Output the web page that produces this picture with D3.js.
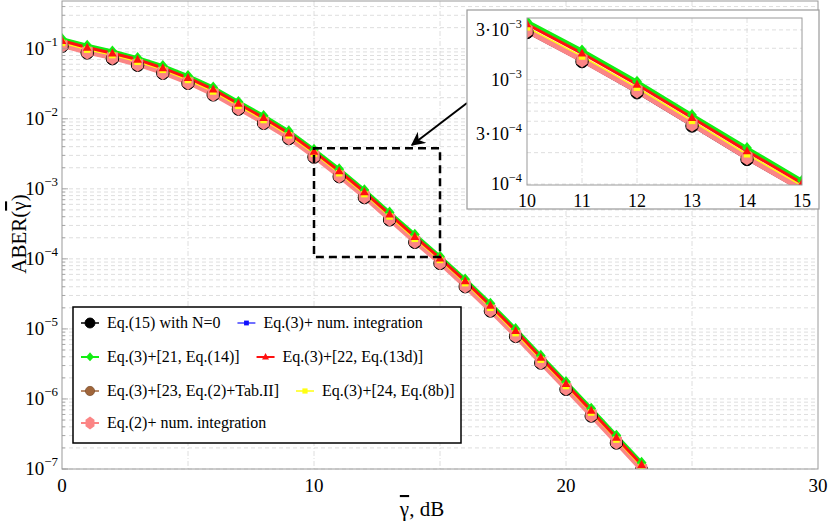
<!DOCTYPE html>
<html>
<head>
<meta charset="utf-8">
<script src="https://cdn.jsdelivr.net/npm/d3@7"></script>
<style>
  body { margin: 0; background: #fff; }
  .grid line { stroke: #d6d6d6; stroke-width: 0.8; stroke-dasharray: 4,3; }
</style>
</head>
<body>
<div id="chart"></div>
<script>
const svgWidth = 830;
const svgHeight = 523;
const serif = '"Liberation Serif"';

// SNR points, dB
const snr = [0,1,2,3,4,5,6,7,8,9,10,11,12,13,14,15,16,17,18,19,20,21,22,23];

// ABER values, one array per curve
const eq15 = [0.108,0.087,0.072,0.058,0.0445,0.032,0.0219,0.0137,0.0086,0.0052,0.00283,0.00149,0.00075,0.00036,0.000172,0.000086,4.0e-5,1.8e-5,7.8e-6,3.25e-6,1.37e-6,5.7e-7,2.35e-7,9.6e-8];
const eq3num = [0.108,0.087,0.072,0.058,0.0445,0.032,0.0219,0.0137,0.0086,0.0052,0.00283,0.00149,0.00075,0.00036,0.000172,0.000086,4.0e-5,1.8e-5,7.8e-6,3.25e-6,1.37e-6,5.7e-7,2.35e-7,9.6e-8];
const eq3ref21 = [0.138,0.111,0.092,0.074,0.057,0.041,0.028,0.0175,0.011,0.00665,0.00362,0.00191,0.00096,0.00046,0.000222,0.000108,5.1e-5,2.3e-5,1.0e-5,4.15e-6,1.75e-6,7.3e-7,3.0e-7,1.23e-7];
const eq3ref22 = [0.130,0.104,0.086,0.070,0.053,0.0384,0.0263,0.0164,0.0103,0.0062,0.0034,0.00179,0.0009,0.000432,0.000207,0.000102,4.8e-5,2.16e-5,9.4e-6,3.9e-6,1.64e-6,6.8e-7,2.8e-7,1.15e-7];
const eq3ref23 = [0.112,0.090,0.075,0.060,0.0463,0.0333,0.0228,0.0142,0.0089,0.0054,0.00294,0.00155,0.00078,0.000374,0.000179,0.0000895,4.16e-5,1.87e-5,8.1e-6,3.38e-6,1.42e-6,5.9e-7,2.44e-7,1.0e-7];
const eq3ref24 = [0.121,0.097,0.081,0.065,0.050,0.0358,0.0245,0.0153,0.0096,0.0058,0.00317,0.00167,0.00084,0.000403,0.000193,0.0000965,4.5e-5,2.0e-5,8.7e-6,3.64e-6,1.53e-6,6.4e-7,2.63e-7,1.07e-7];
const eq2num = [0.113,0.091,0.076,0.061,0.0467,0.0336,0.023,0.0144,0.009,0.00546,0.00297,0.00156,0.00079,0.000378,0.000181,0.00009,4.2e-5,1.89e-5,8.2e-6,3.41e-6,1.44e-6,6.0e-7,2.47e-7,1.01e-7];

const xTicks = [0, 10, 20, 30];
const yTickExp = [-1, -2, -3, -4, -5, -6, -7];
const insetXTicks = [10, 11, 12, 13, 14, 15];
const insetYTicks = [[3, -3], [1, -3], [3, -4], [1, -4]];

// legend rows: [label, series key], two per row
const legendRows = [
  ["Eq.(15) with N=0", "eq15", "Eq.(3)+ num. integration", "eq3num"],
  ["Eq.(3)+[21, Eq.(14)]", "eq3ref21", "Eq.(3)+[22, Eq.(13d)]", "eq3ref22"],
  ["Eq.(3)+[23, Eq.(2)+Tab.II]", "eq3ref23", "Eq.(3)+[24, Eq.(8b)]", "eq3ref24"],
  ["Eq.(2)+ num. integration", "eq2num", null, null]
];

const hexPath = "M0,-8L5.6,-4.2L5.6,4.2L0,8L-5.6,4.2L-5.6,-4.2Z";

// drawing style per curve, in draw order
const series = [
  {key: "eq15",     data: eq15,     color: "#000000", lw: 1.5, shape: "circle",   size: 6.2},
  {key: "eq3num",   data: eq3num,   color: "#1010ff", lw: 1.2, shape: "square",   size: 6},
  {key: "eq3ref23", data: eq3ref23, color: "#a0653a", lw: 1.5, shape: "circle",   size: 5.8},
  {key: "eq2num",   data: eq2num,   color: "#fb8585", lw: 6,   shape: "hex",      size: 7},
  {key: "eq3ref21", data: eq3ref21, color: "#12ee12", lw: 3.5, shape: "diamond",  size: 9},
  {key: "eq3ref24", data: eq3ref24, color: "#ffff10", lw: 1.5, shape: "square",   size: 6.5},
  {key: "eq3ref22", data: eq3ref22, color: "#ff1010", lw: 3,   shape: "triangle", size: 7}
];
const styleOf = {};
series.forEach(s => styleOf[s.key] = s);

const margin = {top: 1, right: 12, bottom: 54, left: 62};

const svg = d3.select("#chart").append("svg")
  .attr("width", svgWidth)
  .attr("height", svgHeight)
  .style("font-family", serif);

const x = d3.scaleLinear().domain([0, 30]).range([margin.left, svgWidth - margin.right]);
const y = d3.scaleLog().domain([1e-7, 0.48]).range([svgHeight - margin.bottom, margin.top]);

// draw a marker of a given style at the origin of group g
function marker(g, s, k) {
  k = k || 1;
  const r = s.size * k;
  let el;
  if (s.shape === "circle") {
    el = g.append("circle").attr("r", r);
  } else if (s.shape === "square") {
    el = g.append("rect").attr("x", -r / 2).attr("y", -r / 2).attr("width", r).attr("height", r);
  } else if (s.shape === "triangle") {
    el = g.append("path").attr("d", `M0,${-r * 0.7}L${r * 0.62},${r * 0.45}L${-r * 0.62},${r * 0.45}Z`);
  } else if (s.shape === "diamond") {
    el = g.append("path").attr("d", `M0,${-r * 0.65}L${r * 0.55},0L0,${r * 0.6}L${-r * 0.55},0Z`);
  } else {
    el = g.append("path").attr("d", hexPath).attr("transform", `scale(${k})`);
  }
  el.attr("fill", s.color);
  if (s.key === "eq15") el.attr("stroke", "#000");
  if (s.key === "eq3ref23") el.attr("stroke", "#6e4425").attr("stroke-width", 0.6);
  return el;
}

// "a·10^e" text with superscript exponent
function powerLabel(sel, mant, exp, size) {
  const t = sel.append("text").attr("font-size", size).style("font-family", serif);
  t.append("tspan").text((mant === 1 ? "" : mant + "\u00b7") + "10");
  t.append("tspan").attr("dy", -size * 0.45).attr("font-size", size * 0.68).text("\u2212" + Math.abs(exp));
  return t;
}

// grid, curves and frame of one plot area
function drawPlot(root, xs, ys, id, xGrid, yMinor) {
  const [x0, x1] = xs.range();
  const [y0, y1] = ys.range();
  root.append("clipPath").attr("id", id)
    .append("rect").attr("x", x0).attr("y", y1).attr("width", x1 - x0).attr("height", y0 - y1);

  const grid = root.append("g").attr("class", "grid");
  grid.selectAll(".h").data(yMinor).join("line")
    .attr("x1", x0).attr("x2", x1)
    .attr("y1", d => ys(d)).attr("y2", d => ys(d));
  grid.selectAll(".v").data(xGrid).join("line")
    .attr("x1", d => xs(d)).attr("x2", d => xs(d))
    .attr("y1", y1).attr("y2", y0)
    .style("stroke-dasharray", "5,2,1,2");

  const plot = root.append("g").attr("clip-path", `url(#${id})`);
  const line = d3.line().x((d, i) => xs(snr[i])).y(d => ys(d));
  series.forEach(s => {
    plot.append("path").datum(s.data)
      .attr("d", line)
      .attr("fill", "none")
      .attr("stroke", s.color)
      .attr("stroke-width", s.lw)
      .attr("stroke-linejoin", "round");
  });
  series.forEach(s => {
    s.data.forEach((v, i) => {
      const g = plot.append("g").attr("transform", `translate(${xs(snr[i])},${ys(v)})`);
      marker(g, s);
    });
  });

  root.append("rect")
    .attr("x", x0).attr("y", y1).attr("width", x1 - x0).attr("height", y0 - y1)
    .attr("fill", "none").attr("stroke", "#9a9a9a").attr("stroke-width", 1);
}

function minorsBetween(lo, hi) {
  const out = [];
  for (let e = -8; e <= 0; e++) {
    for (let m = 1; m <= 9; m++) {
      const v = m * Math.pow(10, e);
      if (v >= lo && v <= hi) out.push(v);
    }
  }
  return out;
}

// main chart
drawPlot(svg, x, y, "clipMain", [5, 10, 15, 20, 25], minorsBetween(1e-7, 0.48));

// minor ticks on the left axis
svg.append("g").selectAll("line").data(minorsBetween(1e-7, 0.48)).join("line")
  .attr("x1", margin.left).attr("x2", d => margin.left + (Math.abs(Math.log10(d) % 1) < 1e-9 ? 6 : 3))
  .attr("y1", d => y(d)).attr("y2", d => y(d))
  .attr("stroke", "#9a9a9a").attr("stroke-width", 0.8);

// y tick labels
yTickExp.forEach(e => {
  powerLabel(svg, 1, e, 19)
    .attr("x", margin.left - 4)
    .attr("y", y(Math.pow(10, e)) + 6)
    .attr("text-anchor", "end");
});

// x tick labels
svg.append("g").selectAll("text").data(xTicks).join("text")
  .attr("x", d => x(d)).attr("y", svgHeight - margin.bottom + 23)
  .attr("text-anchor", "middle").attr("font-size", 19).style("font-family", serif)
  .text(d => d);

// axis titles
const yl = svg.append("text")
  .attr("transform", `translate(26, 234) rotate(-90)`)
  .attr("text-anchor", "middle").attr("font-size", 21).style("font-family", serif);
yl.append("tspan").text("ABER(");
yl.append("tspan").attr("text-decoration", "overline").text("\u03b3");
yl.append("tspan").text(")");

const xl = svg.append("text")
  .attr("x", 422).attr("y", 516)
  .attr("text-anchor", "middle").attr("font-size", 21).style("font-family", serif);
xl.append("tspan").attr("text-decoration", "overline").text("\u03b3");
xl.append("tspan").text(", dB");

// zoom box on the main chart
const xi = d3.scaleLinear().domain([10, 15]).range([527, 802]);
const yi = d3.scaleLog().domain([9.8e-5, 3.9e-3]).range([185, 18]);

svg.append("rect")
  .attr("x", x(10)).attr("y", y(3.8e-3))
  .attr("width", x(15) - x(10))
  .attr("height", y(1.06e-4) - y(3.8e-3))
  .attr("fill", "none").attr("stroke", "#000")
  .attr("stroke-width", 2.5).attr("stroke-dasharray", "8,5");

// arrow from the inset to the box
svg.append("defs").append("marker")
  .attr("id", "arrowHead").attr("viewBox", "0 0 10 10")
  .attr("refX", 9).attr("refY", 5)
  .attr("markerWidth", 7).attr("markerHeight", 7)
  .attr("orient", "auto")
  .append("path").attr("d", "M0,0L10,5L0,10L3,5Z").attr("fill", "#000");

svg.append("line")
  .attr("x1", 467).attr("y1", 103).attr("x2", 412).attr("y2", 145)
  .attr("stroke", "#000").attr("stroke-width", 2)
  .attr("marker-end", "url(#arrowHead)");

// inset
const inset = svg.append("g");
inset.append("rect")
  .attr("x", 467).attr("y", 10).attr("width", 352).attr("height", 199)
  .attr("fill", "#fff").attr("stroke", "#9a9a9a").attr("stroke-width", 1.2);

drawPlot(inset, xi, yi, "clipInset", [11, 12, 13, 14], minorsBetween(9.8e-5, 3.9e-3));

insetYTicks.forEach(([m, e]) => {
  powerLabel(inset, m, e, 18)
    .attr("x", 522)
    .attr("y", yi(m * Math.pow(10, e)) + 6)
    .attr("text-anchor", "end");
});

inset.append("g").selectAll("text").data(insetXTicks).join("text")
  .attr("x", d => xi(d)).attr("y", 207)
  .attr("text-anchor", "middle").attr("font-size", 18).style("font-family", serif)
  .text(d => d);

// legend
const legend = svg.append("g");
legend.append("rect")
  .attr("x", 73).attr("y", 307).attr("width", 388).attr("height", 136)
  .attr("fill", "#fff").attr("stroke", "#000").attr("stroke-width", 1.5);

const rowY = [323, 357, 391, 423];
legendRows.forEach((row, r) => {
  let cx = 90;
  for (let c = 0; c < 2; c++) {
    const label = row[c * 2];
    const key = row[c * 2 + 1];
    if (!label) continue;
    const s = styleOf[key];
    const g = legend.append("g").attr("transform", `translate(${cx},${rowY[r]})`);
    g.append("line").attr("x1", -9).attr("x2", 9)
      .attr("stroke", s.color).attr("stroke-width", Math.min(s.lw, 2));
    marker(g, s, 0.8);
    const t = legend.append("text")
      .attr("x", cx + 17).attr("y", rowY[r] + 5)
      .attr("font-size", 16).style("font-family", serif)
      .text(label);
    cx = cx + 17 + t.node().getComputedTextLength() + 26;
  }
});
</script>
</body>
</html>
